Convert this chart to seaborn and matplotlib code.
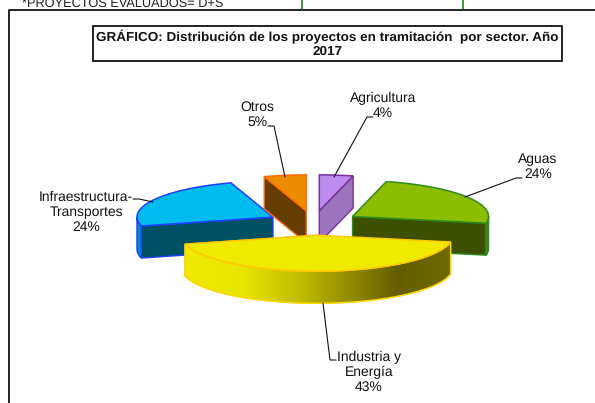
import numpy as np
import matplotlib
matplotlib.use("Agg")
import matplotlib.pyplot as plt
from matplotlib.patches import Polygon, Rectangle
import seaborn as sns

# datos del grafico
sectores = ["Agricultura", "Aguas", "Industria y\nEnergía", "Infraestructura-\nTransportes", "Otros"]
valores = [4, 24, 43, 24, 5]
etiquetas = ["4%", "24%", "43%", "24%", "5%"]
titulo = "GRÁFICO: Distribución de los proyectos en tramitación  por sector. Año\n2017"
nota = "*PROYECTOS EVALUADOS= D+S"

col_top = ["#BB8CEE", "#8CBD00", "#EFEA00", "#00BCF0", "#EE8C00"]
col_side = ["#9A75BE", "#3C5000", "#666000", "#005064", "#673C00"]
col_edge = ["#7B2E9E", "#2E8B1E", "#FFC800", "#1F3FFF", "#FF6A00"]
col_rim = ["#9A75BE", "#5A7A00", "#666000", "#0090C0", "#673C00"]

sns.set_theme(style="white")
plt.rcParams["font.family"] = ["Liberation Sans", "DejaVu Sans"]
plt.rcParams["text.hinting"] = "none"

fig = plt.figure(figsize=(5.95, 4.03), dpi=100)
ax = fig.add_axes([0, 0, 1, 1])
ax.set_xlim(0, 595)
ax.set_ylim(403, 0)
ax.axis("off")

cx, cy = 313.5, 223
rx, ry = 136, 36
depth = 32
expl = 0.34


def pt(x0, y0, t, d=0):
    return x0 + rx * np.sin(t), y0 - ry * np.cos(t) + d


fin = np.cumsum(valores) / sum(valores) * 2 * np.pi
ini = np.r_[0, fin[:-1]]
mid = (ini + fin) / 2
centros = [(cx + expl * rx * np.sin(m), cy - expl * ry * np.cos(m)) for m in mid]
centros[2] = (centros[2][0] + 2, centros[2][1])


def arco(i, a, b, d=0):
    t = np.linspace(a, b, 80)
    return np.column_stack(pt(centros[i][0], centros[i][1], t, d))


def cuna(i, z):
    x0, y0 = centros[i]
    a, b = ini[i], fin[i]
    # cara de corte visible: la del lado de fuera
    t = b if np.sin(mid[i]) > 0 else a
    xe, ye = pt(x0, y0, t)
    ax.add_patch(Polygon([(x0, y0), (xe, ye), (xe, ye + depth), (x0, y0 + depth)],
                         fc=col_side[i], ec=col_edge[i], lw=1, zorder=z))
    # borde exterior, solo la parte de delante
    a2, b2 = max(a, np.pi / 2), min(b, 3 * np.pi / 2)
    if b2 > a2:
        tope = arco(i, a2, b2)
        fondo = arco(i, a2, b2, depth)[::-1]
        ax.add_patch(Polygon(np.vstack([tope, fondo]), fc=col_rim[i], ec=col_edge[i], lw=1, zorder=z + 0.1))
    ax.add_patch(Polygon(np.vstack([[(x0, y0)], arco(i, a, b)]),
                         fc=col_top[i], ec=col_edge[i], lw=1.1, zorder=z + 0.2))


for i, z in [(3, 2), (1, 2.5), (4, 3), (0, 3.5), (2, 4)]:
    cuna(i, z)

# degradado del borde de Industria
i = 2
tope = arco(i, ini[i], fin[i])
fondo = arco(i, ini[i], fin[i], depth)[::-1]
clip = Polygon(np.vstack([tope, fondo]), fc="none", ec="#FFD800", lw=1, zorder=4.15)
ax.add_patch(clip)
cmap = matplotlib.colors.LinearSegmentedColormap.from_list(
    "rim", [(0, "#EFEA00"), (0.22, "#E8E400"), (0.45, "#BDB800"), (0.8, "#645E00"), (1, "#6E6A00")])
img = ax.imshow(np.linspace(0, 1, 256).reshape(1, -1), cmap=cmap, aspect="auto",
                extent=(185, 451, 320, 230), zorder=4.12)
img.set_clip_path(clip)
ax.set_xlim(0, 595)
ax.set_ylim(403, 0)

# marco y cajas
ax.plot([9, 9, 595], [403, 10, 10], color="#111111", lw=1.3, zorder=1)
ax.plot([302, 302], [0, 9], color="#0A7A0A", lw=1.1, zorder=1)
ax.plot([463, 463], [0, 9], color="#0A7A0A", lw=1.1, zorder=1)
ax.text(22, 6.5, nota, fontsize=9.2, color="#222222", ha="left", va="baseline", clip_on=True)
ax.add_patch(Rectangle((93, 25.5), 469, 35.5, fc="white", ec="#111111", lw=1.3, zorder=5))
ax.text(327.5, 44, titulo, fontsize=9.7, fontweight="bold", ha="center", va="center",
        linespacing=1.14, color="#111111", zorder=6)

# lineas guia y etiquetas
guias = [
    [(334, 177), (367, 117), (373, 117)],
    [(465, 197), (516, 178), (522, 178)],
    [(323, 303), (330, 360), (336, 360)],
    [(153, 202), (139, 199), (133, 199)],
    [(285, 177), (274, 126), (268, 126)],
]
pos = [(383, 106), (538, 167), (369, 372), (86, 212.5), (257, 114.5)]
for g, p, s, e in zip(guias, pos, sectores, etiquetas):
    xs, ys = zip(*g)
    ax.plot(xs, ys, color="#111111", lw=0.8, zorder=6)
    ax.text(p[0], p[1], s + "\n" + e, fontsize=10, ha="center", va="center",
            linespacing=1.17, color="#111111", zorder=6)

fig.savefig("out.png", dpi=100)
